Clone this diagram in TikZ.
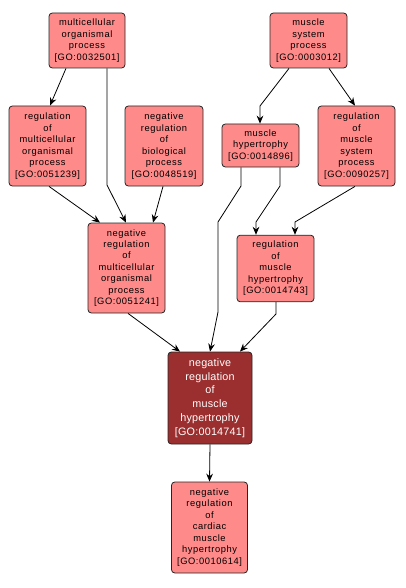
\documentclass[tikz,border=0pt]{standalone}
\usepackage{fontspec}
\setmainfont{Liberation Sans}
\newfontfamily\boxfont[LetterSpace=6]{Liberation Sans}
\newfontfamily\darkfont[LetterSpace=2]{Liberation Sans}
\usetikzlibrary{arrows.meta}
\definecolor{lightbox}{HTML}{FF8A8A}
\definecolor{darkbox}{HTML}{9B2E2E}
\tikzset{
  gobox/.style={draw=black!85, line width=0.6pt, rounded corners=2.5pt, fill=lightbox,
    align=center, inner sep=0pt, font=\boxfont\fontsize{7}{8.6}\selectfont, text=black},
  godark/.style={gobox, fill=darkbox, text=white, font=\darkfont\fontsize{8.1}{10.3}\selectfont},
  arr/.style={draw=black, line width=0.6pt, -{Stealth[length=6pt,width=5pt,inset=2pt]}},
}
\begin{document}
\begin{tikzpicture}[x=0.75pt,y=-0.75pt]
\useasboundingbox (0,0) rectangle (406,588);
\node[gobox, minimum width=57pt, minimum height=41.25pt] (A) at (87,40.5) {multicellular\\organismal\\process\\{[GO:0032501]}};
\node[gobox, minimum width=57.75pt, minimum height=41.25pt] (B) at (308.5,40.5) {muscle\\system\\process\\{[GO:0003012]}};
\node[gobox, minimum width=57.75pt, minimum height=60pt] (C) at (47.5,146) {regulation\\of\\multicellular\\organismal\\process\\{[GO:0051239]}};
\node[gobox, minimum width=58.5pt, minimum height=60pt] (D) at (164,146) {negative\\regulation\\of\\biological\\process\\{[GO:0048519]}};
\node[gobox, minimum width=57.75pt, minimum height=32.25pt] (E) at (260.5,145.5) {muscle\\hypertrophy\\{[GO:0014896]}};
\node[gobox, minimum width=57.75pt, minimum height=60pt] (F) at (356.5,146) {regulation\\of\\muscle\\system\\process\\{[GO:0090257]}};
\node[gobox, minimum width=57.75pt, minimum height=67.5pt] (G) at (126.5,268) {negative\\regulation\\of\\multicellular\\organismal\\process\\{[GO:0051241]}};
\node[gobox, minimum width=57.75pt, minimum height=50pt] (H) at (275.5,268.5) {regulation\\of\\muscle\\hypertrophy\\{[GO:0014743]}};
\node[godark, minimum width=63pt, minimum height=69pt] (I) at (210,398) {negative\\regulation\\of\\muscle\\hypertrophy\\{[GO:0014741]}};
\node[gobox, minimum width=57pt, minimum height=68.25pt] (J) at (209.5,527.5) {negative\\regulation\\of\\cardiac\\muscle\\hypertrophy\\{[GO:0010614]}};
% bend points
\coordinate (ag1) at (107,185);
\coordinate (be1) at (260,106);
\coordinate (ei1) at (241,186);
\coordinate (ei2) at (218,222);
\coordinate (ei3) at (218,312);
\coordinate (eh1) at (280,186);
\coordinate (eh2) at (256,222);
\coordinate (fh1) at (295,222);
\coordinate (hi1) at (276,314);
% edges
\draw[arr] (A.south -| 66,0) -- (C.north -| 50,0);
\draw[arr] (A.south -| 107,0) -- (ag1) -- (G.north -| 126,0);
\draw[arr] (C.south -| 49,0) -- (G.north -| 100,0);
\draw[arr] (D.south -| 163,0) -- (G.north -| 153,0);
\draw[arr] (B.south -| 289,0) -- (be1) -- (E.north -| 260,0);
\draw[arr] (B.south -| 329,0) -- (F.north -| 355,0);
\draw[arr] (E.south -| 241,0) -- (ei1) -- (ei2) -- (ei3) -- (I.north -| 210,0);
\draw[arr] (E.south -| 280,0) -- (eh1) -- (eh2) -- (H.north -| 256,0);
\draw[arr] (F.south -| 355,0) -- (fh1) -- (H.north -| 295,0);
\draw[arr] (G.south -| 128,0) -- (I.north -| 180,0);
\draw[arr] (H.south -| 276,0) -- (hi1) -- (I.north -| 240,0);
\draw[arr] (I.south) -- (J.north);
\end{tikzpicture}
\end{document}
